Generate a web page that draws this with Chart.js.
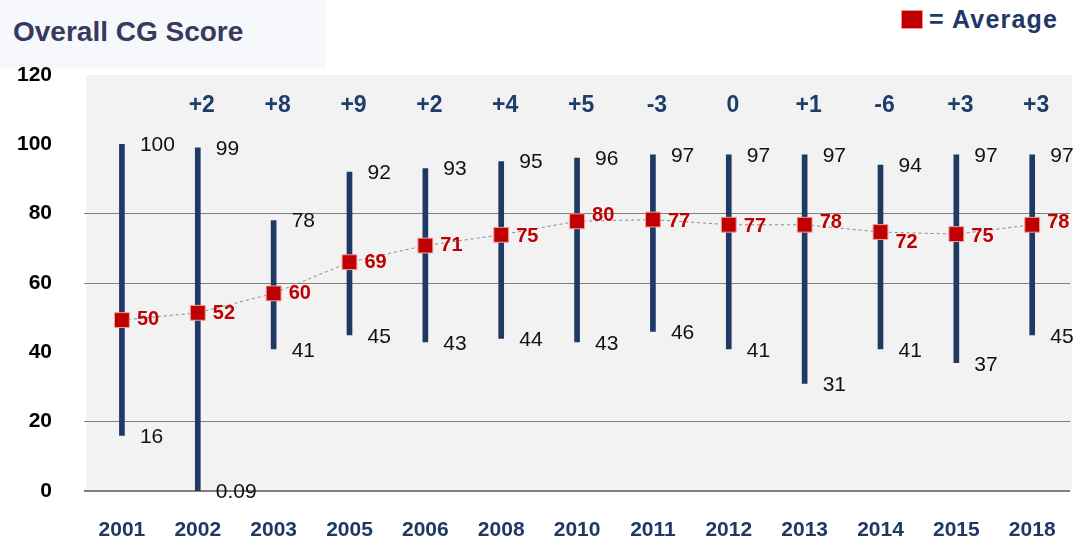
<!DOCTYPE html>
<html>
<head>
<meta charset="utf-8">
<script src="https://cdn.jsdelivr.net/npm/chart.js@4"></script>
<style>
  html, body { margin: 0; padding: 0; background: #fff; overflow: hidden; }
  #wrap { position: relative; width: 1079px; height: 542px; overflow: hidden; }
  #titleBox { position: absolute; left: 0; top: 0; width: 326px; height: 68px; background: #f7f8fc; }
  #title { position: absolute; left: 13px; top: 16px; font: bold 28px Arial, "Liberation Sans", sans-serif; color: #363a5c; }
  #legend { position: absolute; left: 901px; top: 5px; font: bold 25px Arial, "Liberation Sans", sans-serif; color: #1f3864; display: flex; align-items: center; letter-spacing: 1.2px; }
  #legend span.sw { display: inline-block; width: 20px; height: 17px; background: #c00000; border: 1px solid #e99; margin-right: 6px; }
  canvas { position: absolute; left: 0; top: 0; }
</style>
</head>
<body>
<div id="wrap">
  <div id="titleBox"></div>
  <div id="title">Overall CG Score</div>
  <div id="legend"><span class="sw"></span>= Average</div>
  <canvas id="c" width="1083" height="542"></canvas>
</div>
<script>
const years = ['2001', '2002', '2003', '2005', '2006', '2008', '2010', '2011', '2012', '2013', '2014', '2015', '2018'];
const maxScores = [100, 99, 78, 92, 93, 95, 96, 97, 97, 97, 94, 97, 97];
const minScores = [16, 0.09, 41, 45, 43, 44, 43, 46, 41, 31, 41, 37, 45];
const minLabels = ['16', '0.09', '41', '45', '43', '44', '43', '46', '41', '31', '41', '37', '45'];
// average markers as placed in the picture, and the printed average values
const avgMarks = [49.3, 51.4, 57, 66, 70.8, 73.9, 77.8, 78.3, 76.8, 76.8, 74.7, 74.1, 76.8];
const avgLabels = ['50', '52', '60', '69', '71', '75', '80', '77', '77', '78', '72', '75', '78'];
const changes = ['', '+2', '+8', '+9', '+2', '+4', '+5', '-3', '0', '+1', '-6', '+3', '+3'];
const yTicks = [0, 20, 40, 60, 80, 100, 120];

// small vertical nudges for the red average labels
const avgLabelDy = [-1, 1, 0, 0, 0, 2, -6, 2, 2, -2, 10, 2, -2];

const FONT = 'Arial, "Liberation Sans", sans-serif';

const bgPlugin = {
  id: 'bg',
  beforeDraw(chart) {
    const { ctx, chartArea: a } = chart;
    ctx.save();
    ctx.fillStyle = '#f2f2f2';
    ctx.fillRect(a.left + 2, a.top, a.right - a.left, a.bottom - a.top);
    ctx.restore();
  }
};

const labelPlugin = {
  id: 'labels',
  afterDatasetsDraw(chart) {
    const { ctx } = chart;
    const x = chart.scales.x, y = chart.scales.y;
    ctx.save();
    ctx.textBaseline = 'middle';
    years.forEach((yr, i) => {
      const cx = x.getPixelForValue(i);
      ctx.textAlign = 'left';
      ctx.fillStyle = '#111';
      ctx.font = '21px ' + FONT;
      ctx.fillText(String(maxScores[i]), cx + 18, y.getPixelForValue(maxScores[i]) + 1);
      ctx.fillText(minLabels[i], cx + 18, y.getPixelForValue(minScores[i]) + 2);
      ctx.fillStyle = '#c00000';
      ctx.font = 'bold 20px ' + FONT;
      ctx.fillText(avgLabels[i], cx + 15, y.getPixelForValue(avgMarks[i]) + avgLabelDy[i]);
      if (changes[i]) {
        ctx.textAlign = 'center';
        ctx.fillStyle = '#1f3d6b';
        ctx.font = 'bold 23px ' + FONT;
        ctx.fillText(changes[i], cx + 4, 106);
      }
    });
    ctx.restore();
  }
};

new Chart(document.getElementById('c'), {
  data: {
    labels: years,
    datasets: [
      {
        type: 'line',
        data: avgMarks,
        order: 0,
        borderColor: '#8a8a8a',
        borderWidth: 1,
        borderDash: [3, 3],
        pointStyle: 'rect',
        pointRadius: 10.5,
        pointBackgroundColor: '#c00000',
        pointBorderColor: '#e8a0a0',
        pointBorderWidth: 1
      },
      {
        type: 'bar',
        data: maxScores.map((m, i) => [minScores[i], m]),
        order: 1,
        backgroundColor: '#1f3864',
        barThickness: 5
      }
    ]
  },
  options: {
    responsive: false,
    animation: false,
    layout: { padding: { top: 75, right: 0, left: 0, bottom: 0 } },
    plugins: { legend: { display: false }, tooltip: { enabled: false } },
    scales: {
      x: {
        offset: true,
        grid: { display: false, drawTicks: false },
        border: { display: false },
        ticks: {
          padding: 27,
          color: '#1f3864',
          font: { family: FONT, size: 21, weight: 'bold' }
        },
        afterFit(s) { s.height = 51; }
      },
      y: {
        min: 0,
        max: 120,
        afterBuildTicks(s) { s.ticks = yTicks.map(v => ({ value: v })); },
        grid: {
          drawTicks: false,
          color: c => [0, 20, 60, 80].includes(c.tick.value) ? '#7f7f7f' : 'rgba(0,0,0,0)',
          lineWidth: c => c.tick.value === 0 ? 2 : 1
        },
        border: { display: false },
        ticks: {
          padding: 32,
          color: '#000',
          font: { family: FONT, size: 21, weight: 'bold' }
        },
        afterFit(s) { s.width = 84; }
      }
    }
  },
  plugins: [bgPlugin, labelPlugin]
});
</script>
</body>
</html>
